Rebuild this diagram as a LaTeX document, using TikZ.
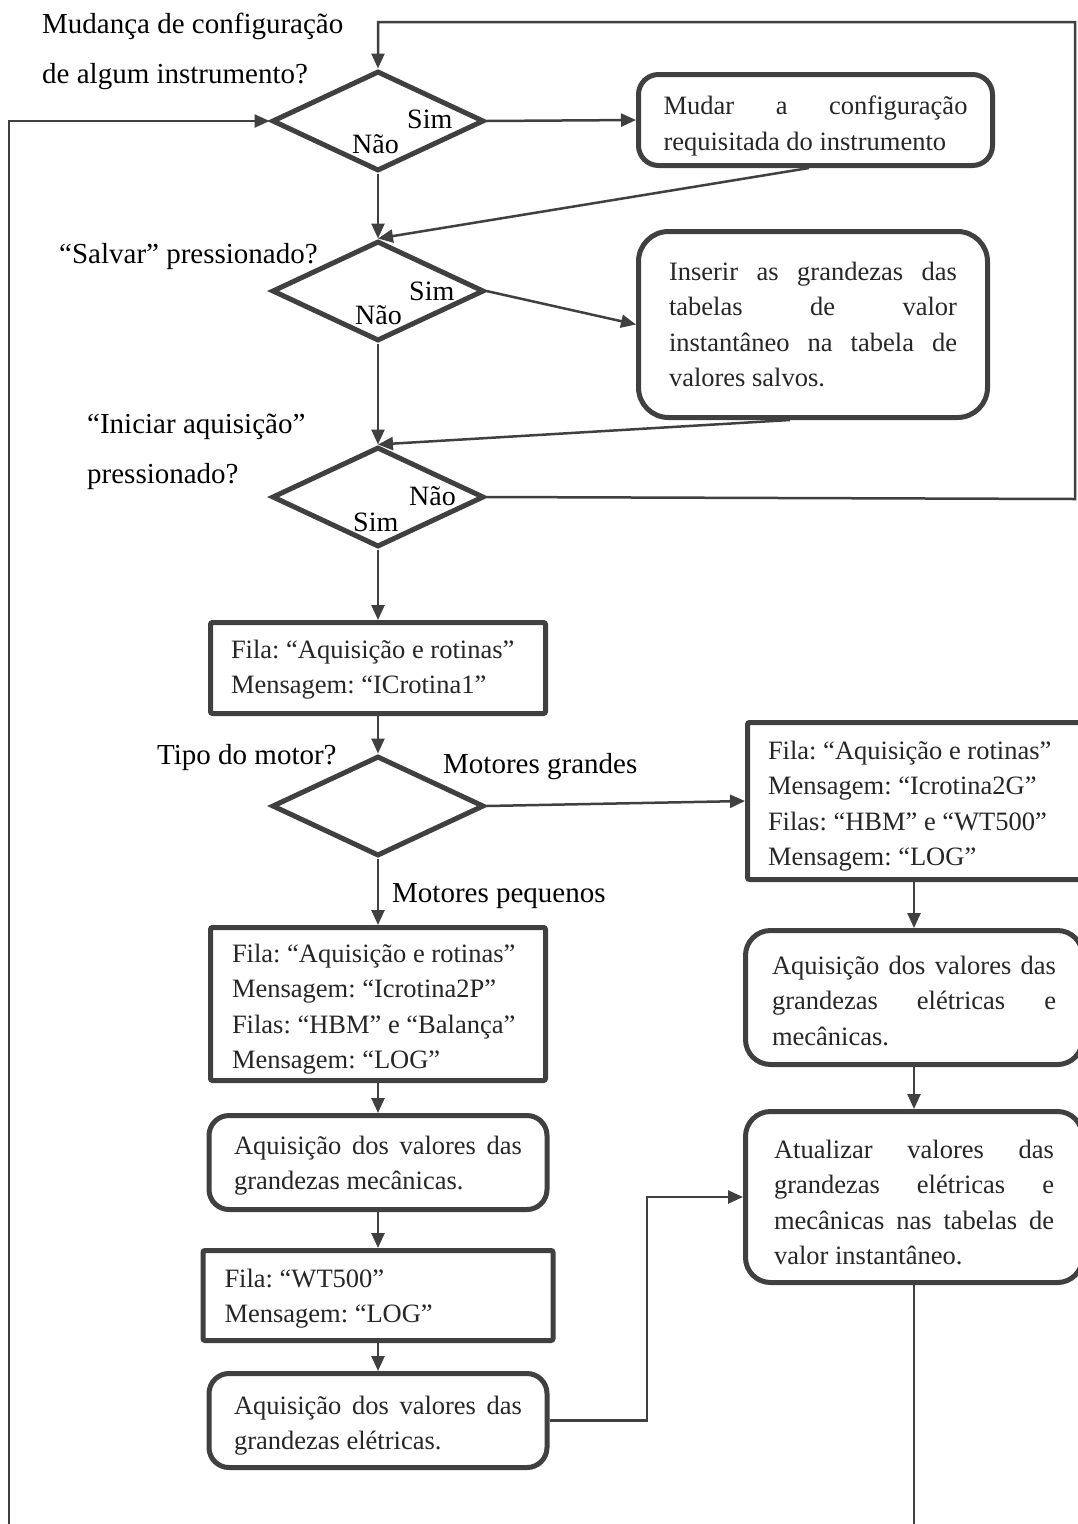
\documentclass[tikz,border=0pt]{standalone}
\usepackage{fontspec}
\setmainfont{Liberation Serif}
\usetikzlibrary{shapes.geometric,arrows.meta}
\definecolor{lc}{HTML}{404040}
\definecolor{tc}{HTML}{262626}
\newcommand{\jl}[2]{\makebox[#1][s]{#2}}
\newcommand{\rs}[1]{\frenchspacing\spaceskip=0pt\xspaceskip=0pt\relax\rule{0pt}{#1}}
\newcommand{\boxfont}{\fontsize{26.5pt}{35.5pt}\selectfont}
\newcommand{\labfont}{\fontsize{29pt}{35pt}\selectfont}
\newcommand{\ynfont}{\fontsize{28pt}{30pt}\selectfont}
\begin{document}
\begin{tikzpicture}[x=1pt,y=-1pt,
  ln/.style={draw=lc, line width=2.5pt},
  arr/.style={ln, -{Triangle[length=15pt,width=13pt]}},
  dec/.style={diamond, draw=lc, line width=5pt, minimum width=212pt, minimum height=100pt, inner sep=0pt},
  sbox/.style={rectangle, draw=lc, line width=5pt, rounded corners=2pt, align=flush left, font=\boxfont, text=tc, inner xsep=0pt, inner ysep=0pt},
  rbox/.style={sbox, rounded corners=22pt},
  lab/.style={font=\labfont, inner sep=0pt, anchor=base west},
  yn/.style={font=\ynfont, inner sep=0pt, anchor=base west}]
\clip (0,0) rectangle (1078,1524);
\fill[white] (0,0) rectangle (1078,1524);

% decisions
\node[dec] (d1) at (378,121) {};
\node[dec] (d2) at (378,291) {};
\node[dec] (d3) at (378,497) {};
\node[dec] (d4) at (378,806) {};

% boxes
\node[rbox, rounded corners=20pt, text width=304pt, minimum width=354pt, minimum height=91pt] (b1) at (815.5,120)
  {\rs{31pt}\jl{304pt}{Mudar a configuração}\\requisitada do instrumento};
\node[rbox, rounded corners=30pt, text width=288pt, minimum width=349pt, minimum height=186pt] (b2) at (813,324.5)
  {\rs{0pt}\jl{288pt}{Inserir as grandezas das}\\\jl{288pt}{tabelas de valor}\\\jl{288pt}{instantâneo na tabela de}\\valores salvos.};
\node[sbox, text width=294pt, minimum width=335pt, minimum height=91pt] (b3) at (378,668)
  {\rs{22pt}Fila: “Aquisição e rotinas”\\Mensagem: “ICrotina1”};
\node[sbox, text width=292pt, minimum width=333pt, minimum height=157pt] (b4) at (914,801)
  {\rs{29pt}Fila: “Aquisição e rotinas”\\Mensagem: “Icrotina2G”\\Filas: “HBM” e “WT500”\\Mensagem: “LOG”};
\node[rbox, rounded corners=25pt, text width=284pt, minimum width=337pt, minimum height=134pt] (b5) at (914,997.5)
  {\rs{25pt}\jl{284pt}{Aquisição dos valores das}\\\jl{284pt}{grandezas elétricas e}\\mecânicas.};
\node[rbox, rounded corners=25pt, text width=280pt, minimum width=337pt, minimum height=171pt] (b6) at (914,1197)
  {\rs{29pt}\jl{280pt}{Atualizar valores das}\\\jl{280pt}{grandezas elétricas e}\\\jl{280pt}{mecânicas nas tabelas de}\\valor instantâneo.};
\node[sbox, text width=292pt, minimum width=335pt, minimum height=153pt] (b7) at (378,1004)
  {\rs{29pt}Fila: “Aquisição e rotinas”\\Mensagem: “Icrotina2P”\\Filas: “HBM” e “Balança”\\Mensagem: “LOG”};
\node[rbox, rounded corners=20pt, text width=288pt, minimum width=338pt, minimum height=94pt] (b8) at (378,1162.5)
  {\rs{25pt}\jl{288pt}{Aquisição dos valores das}\\grandezas mecânicas.};
\node[sbox, text width=307pt, minimum width=350pt, minimum height=90pt] (b9) at (378,1295.5)
  {\rs{25pt}Fila: “WT500”\\Mensagem: “LOG”};
\node[rbox, rounded corners=20pt, text width=288pt, minimum width=338pt, minimum height=94pt] (b10) at (378,1420.5)
  {\rs{29pt}\jl{288pt}{Aquisição dos valores das}\\grandezas elétricas.};

% outer labels
\node[lab] (q1a) at (42,33) {Mudança de configuração};
\node[lab] (q1b) at (42,83) {de algum instrumento?};
\node[lab] (q2) at (59,263) {“Salvar” pressionado?};
\node[lab] (q3a) at (87,433) {“Iniciar aquisição”};
\node[lab] (q3b) at (87,483) {pressionado?};
\node[lab] (q4) at (157,764) {Tipo do motor?};
\node[lab] (mg) at (443,773) {Motores grandes};
\node[lab] (mp) at (392,902) {Motores pequenos};

% yes / no labels
\node[yn] (s1) at (407,128) {Sim};
\node[yn] (n1) at (352,153) {Não};
\node[yn] (s2) at (409,300) {Sim};
\node[yn] (n2) at (355,324) {Não};
\node[yn] (n3) at (409,505) {Não};
\node[yn] (s3) at (353,531) {Sim};

% helper coordinates
\coordinate (loopB) at (1075,499);
\coordinate (loopT) at (1075,22);
\coordinate (leftB) at (9,1530);
\coordinate (rightB) at (914,1530);
\coordinate (vx) at (647,0);

% connectors
\draw[arr] (d3.east) -- (loopB) -- (loopT) -| (d1.north);
\draw[arr] (leftB) |- (d1.west);
\draw[arr] (d1.east) -- (b1.west);
\draw[arr] ([xshift=-6.5pt]b1.south) -- (d2.north);
\draw[arr] (d1.south) -- (d2.north);
\draw[arr] (d2.east) -- (b2.west);
\draw[arr] ([xshift=-23pt]b2.south) -- (d3.north);
\draw[arr] (d2.south) -- (d3.north);
\draw[arr] (d3.south) -- (b3.north);
\draw[arr] (b3.south) -- (d4.north);
\draw[arr] (d4.east) -- (b4.west);
\draw[arr] (b4.south) -- (b5.north);
\draw[arr] (b5.south) -- (b6.north);
\draw[ln] (b6.south) -- (rightB);
\draw[arr] (d4.south) -- (b7.north);
\draw[arr] (b7.south) -- (b8.north);
\draw[arr] (b8.south) -- (b9.north);
\draw[arr] (b9.south) -- (b10.north);
\draw[arr] (b10.east) -- (b10.east -| vx) |- (b6.west);
\end{tikzpicture}
\end{document}
